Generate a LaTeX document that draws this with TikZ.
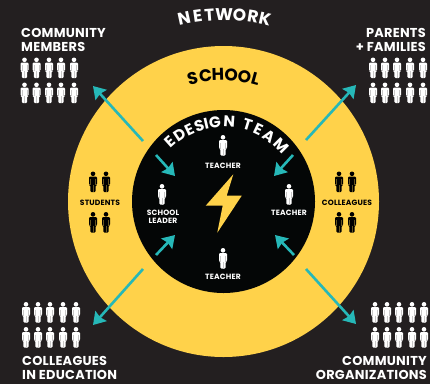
\documentclass[tikz,border=0pt]{standalone}
\usepackage{fontspec}
\usetikzlibrary{arrows.meta}
\setmainfont{Poppins}
\newfontfamily\labf[LetterSpace=2]{Poppins}
\definecolor{bgc}{HTML}{231F20}
\definecolor{yel}{HTML}{FFD24A}
\definecolor{blk}{HTML}{040606}
\definecolor{teal2}{HTML}{26B8B8}
\tikzset{
  x=1pt,y=1pt,
  arrowbig/.style={teal2,line width=2.6pt,-{Stealth[length=12pt,width=15pt,inset=1.5pt]}},
  arrowsmall/.style={arrowbig},
  biglabel/.style={font=\labf\fontsize{12.9}{13.8}\selectfont\bfseries,text=white,inner sep=0pt},
  smalllabel/.style={font=\labf\fontsize{7.6}{8}\selectfont\bfseries,inner sep=0pt,align=center},
  arcletter/.style={font=\fontsize{#1}{16}\selectfont\bfseries,inner sep=0pt,anchor=base},
  pics/person/.style n args={2}{code={
    \fill[#1] (0,-2.3) circle (2.3);
    \fill[#1,rounded corners=1.2pt] (-4,-5) -- (4,-5) -- (4,-13.5) -- (2.7,-13.5) -- (2.7,-20.5) -- (-2.7,-20.5) -- (-2.7,-13.5) -- (-4,-13.5) -- cycle;
    \draw[#2,line width=.35pt] (-2.5,-7.5) -- (-2.5,-13.5) (2.5,-7.5) -- (2.5,-13.5) (0,-13.5) -- (0,-20.5);
  }},
}
\begin{document}
\begin{tikzpicture}
\useasboundingbox (0,0) rectangle (430,-384);
\fill[bgc] (0,0) rectangle (430,-384);
\fill[yel] (223.5,-201.5) circle (155.5);
\fill[blk] (223.5,-201.5) circle (91.5);
% bolt
\fill[yel] (233.3,-174.3) -- (205.7,-205.7) -- (222.7,-205.7) -- (217.3,-232.7) -- (241.7,-195.7) -- (226.7,-195.7) -- cycle;
% curved titles, set letter by letter
\foreach \c/\a [count=\i] in {N/102.2,E/98,T/94.3,W/89.8,O/85.1,R/80.9,K/77.2}
  \path (223.5,-201.5) ++(\a:181) node[arcletter=17,text=white,rotate=\a-90] (net\i) {\c};
\foreach \c/\a [count=\i] in {S/103.4,C/97.4,H/91.8,O/85.8,O/79.8,L/74.7}
  \path (222,-201.5) ++(\a:121) node[arcletter=17,text=black,rotate=\a-90] (sch\i) {\c};
\foreach \c/\a [count=\i] in {E/131.8,D/123.6,E/115.6,S/108,I/102.8,G/96.6,N/86.2,T/73,E/64.8,A/55.4,M/44.8}
  \path (224,-202) ++(\a:75) node[arcletter=15.5,text=white,rotate=\a-90] (ede\i) {\c};
% outer labels
\node[biglabel,anchor=north west,align=left] (community) at (21,-28.5) {COMMUNITY\\MEMBERS};
\node[biglabel,anchor=north east,align=right] (parents) at (426,-28.5) {PARENTS\\+ FAMILIES};
\node[biglabel,anchor=south west,align=left] (colleaguesed) at (22,-380) {COLLEAGUES\\IN EDUCATION};
\node[biglabel,anchor=south east,align=right] (orgs) at (427,-380) {COMMUNITY\\ORGANIZATIONS};
% small labels
\node[smalllabel,text=black] (students) at (100,-203) {STUDENTS};
\node[smalllabel,text=black] (colleagues) at (347,-203) {COLLEAGUES};
\node[smalllabel,text=white] (t1) at (223,-165.5) {TEACHER};
\node[smalllabel,text=white] (lead) at (163,-217) {SCHOOL\\LEADER};
\node[smalllabel,text=white] (t2) at (289,-213) {TEACHER};
\node[smalllabel,text=white] (t3) at (223,-277) {TEACHER};
% people grids
\foreach \yy in {-57.5,-82.5} \foreach \xx in {24.5,36.5,49,61,74}
  \pic at (\xx,\yy) {person={white}{bgc!25!white}};
\foreach \yy in {-57.5,-82.5} \foreach \xx in {373,385,397,410,423}
  \pic at (\xx,\yy) {person={white}{bgc!25!white}};
\foreach \yy in {-302,-327} \foreach \xx in {26,38,50,63,76}
  \pic at (\xx,\yy) {person={white}{bgc!25!white}};
\foreach \yy in {-302,-327} \foreach \xx in {375,387,399,412,424}
  \pic at (\xx,\yy) {person={white}{bgc!25!white}};
\foreach \yy in {-171.5,-212} \foreach \xx in {93,106,339,352}
  \pic at (\xx,\yy) {person={black}{yel!40!black}};
\foreach \xx/\yy in {223/-135,162/-184,289/-184,223/-248}
  \pic at (\xx,\yy) {person={white}{bgc!25!white}};
% connectors
\coordinate (o1t) at (143,-141); \coordinate (o1h) at (93,-86);
\coordinate (o2t) at (306,-140); \coordinate (o2h) at (356,-85);
\coordinate (o3t) at (143,-269); \coordinate (o3h) at (93,-325);
\coordinate (o4t) at (306,-269); \coordinate (o4h) at (356,-324);
\coordinate (i1t) at (156,-155); \coordinate (i1h) at (175,-176);
\coordinate (i2t) at (293,-155); \coordinate (i2h) at (274,-176);
\coordinate (i3t) at (156,-255); \coordinate (i3h) at (175,-235);
\coordinate (i4t) at (294,-255); \coordinate (i4h) at (275,-235);
\foreach \n in {o1,o2,o3,o4} \draw[arrowbig] (\n t) -- (\n h);
\foreach \n in {i1,i2,i3,i4} \draw[arrowsmall] (\n t) -- (\n h);
\end{tikzpicture}
\end{document}
